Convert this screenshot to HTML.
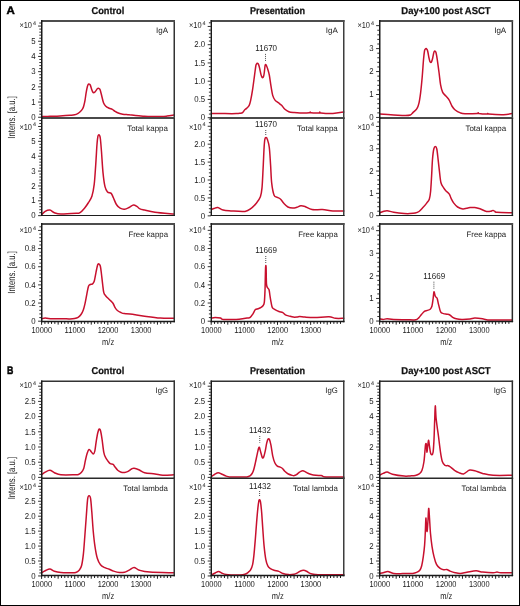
<!DOCTYPE html>
<html><head><meta charset="utf-8"><style>
html,body{margin:0;padding:0;background:#fff;width:520px;height:606px;overflow:hidden;}
svg text{font-family:"Liberation Sans", sans-serif;text-rendering:geometricPrecision;}
</style></head><body>
<svg width="520" height="606" viewBox="0 0 520 606" style="display:block;will-change:transform;font-family:'Liberation Sans', sans-serif">
<rect x="0" y="0" width="520" height="606" fill="#fff"/>
<path d="M41.6 116.6 C43 116.55 46.93 116.42 50 116.3 C53.07 116.18 56.67 116.07 60 115.9 C63.33 115.73 67.57 115.48 70 115.3 C72.43 115.12 73.25 115.13 74.6 114.8 C75.95 114.47 77.13 113.85 78.1 113.3 C79.07 112.75 79.63 112.28 80.4 111.5 C81.17 110.72 82.13 109.55 82.7 108.6 C83.27 107.65 83.42 107.17 83.8 105.8 C84.18 104.43 84.6 102.65 85 100.4 C85.4 98.15 85.8 94.62 86.2 92.3 C86.6 89.98 87.08 87.78 87.4 86.5 C87.72 85.22 87.85 85.02 88.1 84.6 C88.35 84.18 88.65 84.05 88.9 84 C89.15 83.95 89.35 84.07 89.6 84.3 C89.85 84.53 90.05 84.55 90.4 85.4 C90.75 86.25 91.3 88.3 91.7 89.4 C92.1 90.5 92.47 91.45 92.8 92 C93.13 92.55 93.38 92.67 93.7 92.7 C94.02 92.73 94.32 92.55 94.7 92.2 C95.08 91.85 95.57 91.17 96 90.6 C96.43 90.03 96.92 89.18 97.3 88.8 C97.68 88.42 97.97 88.32 98.3 88.3 C98.63 88.28 98.98 88.42 99.3 88.7 C99.62 88.98 99.8 88.82 100.2 90 C100.6 91.18 101.15 93.68 101.7 95.8 C102.25 97.92 102.82 100.97 103.5 102.7 C104.18 104.43 104.85 105.28 105.8 106.2 C106.75 107.12 108.12 107.68 109.2 108.2 C110.28 108.72 111.32 108.77 112.3 109.3 C113.28 109.83 114 110.73 115.1 111.4 C116.2 112.07 117.63 112.83 118.9 113.3 C120.17 113.77 121.02 113.95 122.7 114.2 C124.38 114.45 126.88 114.58 129 114.8 C131.12 115.02 133.07 115.27 135.4 115.5 C137.73 115.73 140.9 116.03 143 116.2 C145.1 116.37 145 116.45 148 116.5 C151 116.55 157.83 116.57 161 116.5 C164.17 116.43 164.83 116.33 167 116.1 C169.17 115.87 172.83 115.27 174 115.1" fill="none" stroke="#c8102e" stroke-width="1.5" stroke-linejoin="round" stroke-linecap="round"/>
<line x1="174.25" y1="20" x2="174.25" y2="119" stroke="#333" stroke-width="1.5"/>
<line x1="41" y1="21" x2="175" y2="21" stroke="#4d4d4d" stroke-width="2"/>
<line x1="41" y1="118" x2="175" y2="118" stroke="#4a4a4a" stroke-width="2"/>
<line x1="41.75" y1="20" x2="41.75" y2="119" stroke="#1a1a1a" stroke-width="1.5"/>
<path d="M38.1 117.25h3.2M39.3 114.21h2M39.3 111.17h2M39.3 108.13h2M39.3 105.09h2M38.1 102.05h3.2M39.3 99.01h2M39.3 95.97h2M39.3 92.93h2M39.3 89.89h2M38.1 86.85h3.2M39.3 83.81h2M39.3 80.77h2M39.3 77.73h2M39.3 74.69h2M38.1 71.65h3.2M39.3 68.61h2M39.3 65.57h2M39.3 62.53h2M39.3 59.49h2M38.1 56.45h3.2M39.3 53.41h2M39.3 50.37h2M39.3 47.33h2M39.3 44.29h2M38.1 41.25h3.2M39.3 38.21h2M39.3 35.17h2M39.3 32.13h2M39.3 29.09h2M38.1 26.05h3.2M39.3 23.01h2" stroke="#1a1a1a" stroke-width="0.9" fill="none"/>
<text x="35.6" y="119.95" font-size="8.6" text-anchor="end" font-weight="normal" fill="#1a1a1a" textLength="4.35" lengthAdjust="spacingAndGlyphs">0</text>
<text x="35.6" y="104.75" font-size="8.6" text-anchor="end" font-weight="normal" fill="#1a1a1a" textLength="4.35" lengthAdjust="spacingAndGlyphs">1</text>
<text x="35.6" y="89.55" font-size="8.6" text-anchor="end" font-weight="normal" fill="#1a1a1a" textLength="4.35" lengthAdjust="spacingAndGlyphs">2</text>
<text x="35.6" y="74.35" font-size="8.6" text-anchor="end" font-weight="normal" fill="#1a1a1a" textLength="4.35" lengthAdjust="spacingAndGlyphs">3</text>
<text x="35.6" y="59.15" font-size="8.6" text-anchor="end" font-weight="normal" fill="#1a1a1a" textLength="4.35" lengthAdjust="spacingAndGlyphs">4</text>
<text x="35.6" y="43.95" font-size="8.6" text-anchor="end" font-weight="normal" fill="#1a1a1a" textLength="4.35" lengthAdjust="spacingAndGlyphs">5</text>
<text x="19.4" y="27.95" font-size="8.6" text-anchor="start" font-weight="normal" fill="#1a1a1a" textLength="12.6" lengthAdjust="spacingAndGlyphs">×10</text>
<text x="33" y="24.8" font-size="5.4" text-anchor="start" font-weight="normal" fill="#1a1a1a">4</text>
<text x="168" y="33" font-size="7.9" text-anchor="end" font-weight="normal" fill="#1a1a1a" textLength="12" lengthAdjust="spacingAndGlyphs">IgA</text>
<path d="M211.5 113.4 C213.75 113.43 220.88 113.57 225 113.6 C229.12 113.63 233.7 113.65 236.2 113.6 C238.7 113.55 238.93 113.47 240 113.3 C241.07 113.13 241.83 113.15 242.6 112.6 C243.37 112.05 243.93 110.7 244.6 110 C245.27 109.3 245.83 109.18 246.6 108.4 C247.37 107.62 248.53 106.58 249.2 105.3 C249.87 104.02 250.05 103.22 250.6 100.7 C251.15 98.18 251.85 94.38 252.5 90.2 C253.15 86.02 253.95 79.63 254.5 75.6 C255.05 71.57 255.47 67.93 255.8 66 C256.13 64.07 256.25 64.47 256.5 64 C256.75 63.53 257.03 63.25 257.3 63.2 C257.57 63.15 257.83 63.33 258.1 63.7 C258.37 64.07 258.62 64.52 258.9 65.4 C259.18 66.28 259.45 67.47 259.8 69 C260.15 70.53 260.65 73.27 261 74.6 C261.35 75.93 261.6 76.5 261.9 77 C262.2 77.5 262.52 77.72 262.8 77.6 C263.08 77.48 263.35 77.15 263.6 76.3 C263.85 75.45 264.07 74.22 264.3 72.5 C264.53 70.78 264.8 67.33 265 66 C265.2 64.67 265.32 64.68 265.5 64.5 C265.68 64.32 265.9 64.6 266.1 64.9 C266.3 65.2 266.43 65.62 266.7 66.3 C266.97 66.98 267.27 67.55 267.7 69 C268.13 70.45 268.75 72.13 269.3 75 C269.85 77.87 270.43 82.8 271 86.2 C271.57 89.6 272.03 93.08 272.7 95.4 C273.37 97.72 274.07 98.88 275 100.1 C275.93 101.32 277.2 101.83 278.3 102.7 C279.4 103.57 280.5 104.2 281.6 105.3 C282.7 106.4 283.7 108.23 284.9 109.3 C286.1 110.37 287.27 111.15 288.8 111.7 C290.33 112.25 292.23 112.38 294.1 112.6 C295.97 112.82 297.45 112.97 300 113 C302.55 113.03 307.7 112.97 309.4 112.8 C311.1 112.63 309.93 112 310.2 112 C310.47 112 309.53 112.65 311 112.8 C312.47 112.95 317.53 113.03 319 112.9 C320.47 112.77 319.5 112 319.8 112 C320.1 112 318.62 112.67 320.8 112.9 C322.98 113.13 329.07 113.55 332.9 113.4 C336.73 113.25 341.98 112.23 343.8 112" fill="none" stroke="#c8102e" stroke-width="1.5" stroke-linejoin="round" stroke-linecap="round"/>
<line x1="343.75" y1="20" x2="343.75" y2="119" stroke="#3d3d3d" stroke-width="1.5"/>
<line x1="210.6" y1="21" x2="344.5" y2="21" stroke="#4d4d4d" stroke-width="2"/>
<line x1="210.6" y1="118" x2="344.5" y2="118" stroke="#4a4a4a" stroke-width="2"/>
<line x1="211.3" y1="20" x2="211.3" y2="119" stroke="#1a1a1a" stroke-width="1.4"/>
<path d="M207.7 117.7h3.2M208.9 114.05h2M208.9 110.4h2M208.9 106.75h2M208.9 103.1h2M207.7 99.45h3.2M208.9 95.8h2M208.9 92.15h2M208.9 88.5h2M208.9 84.85h2M207.7 81.2h3.2M208.9 77.55h2M208.9 73.9h2M208.9 70.25h2M208.9 66.6h2M207.7 62.95h3.2M208.9 59.3h2M208.9 55.65h2M208.9 52h2M208.9 48.35h2M207.7 44.7h3.2M208.9 41.05h2M208.9 37.4h2M208.9 33.75h2M208.9 30.1h2M207.7 26.45h3.2M208.9 22.8h2" stroke="#1a1a1a" stroke-width="0.9" fill="none"/>
<text x="205.2" y="120.4" font-size="8.6" text-anchor="end" font-weight="normal" fill="#1a1a1a" textLength="4.35" lengthAdjust="spacingAndGlyphs">0</text>
<text x="205.2" y="102.15" font-size="8.6" text-anchor="end" font-weight="normal" fill="#1a1a1a" textLength="10.88" lengthAdjust="spacingAndGlyphs">0.5</text>
<text x="205.2" y="83.9" font-size="8.6" text-anchor="end" font-weight="normal" fill="#1a1a1a" textLength="10.88" lengthAdjust="spacingAndGlyphs">1.0</text>
<text x="205.2" y="65.65" font-size="8.6" text-anchor="end" font-weight="normal" fill="#1a1a1a" textLength="10.88" lengthAdjust="spacingAndGlyphs">1.5</text>
<text x="205.2" y="47.4" font-size="8.6" text-anchor="end" font-weight="normal" fill="#1a1a1a" textLength="10.88" lengthAdjust="spacingAndGlyphs">2.0</text>
<text x="189" y="27.95" font-size="8.6" text-anchor="start" font-weight="normal" fill="#1a1a1a" textLength="12.6" lengthAdjust="spacingAndGlyphs">×10</text>
<text x="202.6" y="24.8" font-size="5.4" text-anchor="start" font-weight="normal" fill="#1a1a1a">4</text>
<text x="337.8" y="33" font-size="7.9" text-anchor="end" font-weight="normal" fill="#1a1a1a" textLength="12" lengthAdjust="spacingAndGlyphs">IgA</text>
<text x="266.2" y="51.2" font-size="8.6" text-anchor="middle" font-weight="normal" fill="#1a1a1a" textLength="21.76" lengthAdjust="spacingAndGlyphs">11670</text>
<line x1="265.5" y1="53.9" x2="265.5" y2="61.3" stroke="#3a3a3a" stroke-width="0.9" stroke-dasharray="1 1"/>
<path d="M379.7 114.1 C382.03 114.23 389.48 114.67 393.7 114.9 C397.92 115.13 402.23 115.48 405 115.5 C407.77 115.52 408.98 115.48 410.3 115 C411.62 114.52 411.8 113.67 412.9 112.6 C414 111.53 415.9 110.13 416.9 108.6 C417.9 107.07 418.28 106.03 418.9 103.4 C419.52 100.77 420.05 97.2 420.6 92.8 C421.15 88.4 421.72 82.5 422.2 77 C422.68 71.5 423.12 64.13 423.5 59.8 C423.88 55.47 424.2 52.77 424.5 51 C424.8 49.23 425.03 49.6 425.3 49.2 C425.57 48.8 425.83 48.58 426.1 48.6 C426.37 48.62 426.63 48.87 426.9 49.3 C427.17 49.73 427.35 49.75 427.7 51.2 C428.05 52.65 428.63 56.27 429 58 C429.37 59.73 429.6 60.83 429.9 61.6 C430.2 62.37 430.5 62.63 430.8 62.6 C431.1 62.57 431.38 62.17 431.7 61.4 C432.02 60.63 432.35 59.47 432.7 58 C433.05 56.53 433.48 53.73 433.8 52.6 C434.12 51.47 434.33 51.38 434.6 51.2 C434.87 51.02 435.15 51.2 435.4 51.5 C435.65 51.8 435.78 51.62 436.1 53 C436.42 54.38 436.8 56.47 437.3 59.8 C437.8 63.13 438.55 68.82 439.1 73 C439.65 77.18 440.02 81.72 440.6 84.9 C441.18 88.08 441.72 90.23 442.6 92.1 C443.48 93.97 444.8 94.77 445.9 96.1 C447 97.43 448.2 98.45 449.2 100.1 C450.2 101.75 450.9 104.35 451.9 106 C452.9 107.65 453.78 108.85 455.2 110 C456.62 111.15 458.77 112.28 460.4 112.9 C462.03 113.52 462.17 113.62 465 113.7 C467.83 113.78 475.2 113.55 477.4 113.4 C479.6 113.25 477.93 112.77 478.2 112.8 C478.47 112.83 477.53 113.38 479 113.6 C480.47 113.82 485.53 114.13 487 114.1 C488.47 114.07 487.53 113.4 487.8 113.4 C488.07 113.4 485.98 113.88 488.6 114.1 C491.22 114.32 499.57 114.78 503.5 114.7 C507.43 114.62 510.75 113.78 512.2 113.6" fill="none" stroke="#c8102e" stroke-width="1.5" stroke-linejoin="round" stroke-linecap="round"/>
<line x1="512.35" y1="20" x2="512.35" y2="119" stroke="#2a2a2a" stroke-width="1.5"/>
<line x1="379" y1="21" x2="513.1" y2="21" stroke="#4d4d4d" stroke-width="2"/>
<line x1="379" y1="118" x2="513.1" y2="118" stroke="#4a4a4a" stroke-width="2"/>
<line x1="379.75" y1="20" x2="379.75" y2="119" stroke="#1a1a1a" stroke-width="1.5"/>
<path d="M376.1 117.45h3.2M377.3 112.86h2M377.3 108.27h2M377.3 103.68h2M377.3 99.09h2M376.1 94.5h3.2M377.3 89.91h2M377.3 85.32h2M377.3 80.73h2M377.3 76.14h2M376.1 71.55h3.2M377.3 66.96h2M377.3 62.37h2M377.3 57.78h2M377.3 53.19h2M376.1 48.6h3.2M377.3 44.01h2M377.3 39.42h2M377.3 34.83h2M377.3 30.24h2M376.1 25.65h3.2" stroke="#1a1a1a" stroke-width="0.9" fill="none"/>
<text x="373.6" y="120.15" font-size="8.6" text-anchor="end" font-weight="normal" fill="#1a1a1a" textLength="4.35" lengthAdjust="spacingAndGlyphs">0</text>
<text x="373.6" y="97.2" font-size="8.6" text-anchor="end" font-weight="normal" fill="#1a1a1a" textLength="4.35" lengthAdjust="spacingAndGlyphs">1</text>
<text x="373.6" y="74.25" font-size="8.6" text-anchor="end" font-weight="normal" fill="#1a1a1a" textLength="4.35" lengthAdjust="spacingAndGlyphs">2</text>
<text x="373.6" y="51.3" font-size="8.6" text-anchor="end" font-weight="normal" fill="#1a1a1a" textLength="4.35" lengthAdjust="spacingAndGlyphs">3</text>
<text x="357.4" y="27.95" font-size="8.6" text-anchor="start" font-weight="normal" fill="#1a1a1a" textLength="12.6" lengthAdjust="spacingAndGlyphs">×10</text>
<text x="371" y="24.8" font-size="5.4" text-anchor="start" font-weight="normal" fill="#1a1a1a">4</text>
<text x="506.2" y="33" font-size="7.9" text-anchor="end" font-weight="normal" fill="#1a1a1a" textLength="12" lengthAdjust="spacingAndGlyphs">IgA</text>
<path d="M41.6 214.8 C42.2 214.23 43.82 212.18 45.2 211.4 C46.58 210.62 48.37 209.87 49.9 210.1 C51.43 210.33 52.57 212.13 54.4 212.8 C56.23 213.47 57.2 214.02 60.9 214.1 C64.6 214.18 73.42 213.53 76.6 213.3 C79.78 213.07 78.68 213.55 80 212.7 C81.32 211.85 83.13 209.82 84.5 208.2 C85.87 206.58 86.97 204.98 88.2 203 C89.43 201.02 90.9 199.4 91.9 196.3 C92.9 193.2 93.57 189.6 94.2 184.4 C94.83 179.2 95.23 171.78 95.7 165.1 C96.17 158.42 96.63 149.08 97 144.3 C97.37 139.52 97.62 137.98 97.9 136.4 C98.18 134.82 98.42 134.95 98.7 134.8 C98.98 134.65 99.32 134.8 99.6 135.5 C99.88 136.2 100.08 136.28 100.4 139 C100.72 141.72 101.07 146.2 101.5 151.8 C101.93 157.4 102.42 166.78 103 172.6 C103.58 178.42 104.25 183.48 105 186.7 C105.75 189.92 106.47 190.78 107.5 191.9 C108.53 193.02 110.22 192.42 111.2 193.4 C112.18 194.38 112.53 195.95 113.4 197.8 C114.27 199.65 115.28 202.77 116.4 204.5 C117.52 206.23 118.73 207.42 120.1 208.2 C121.47 208.98 123.12 209.32 124.6 209.2 C126.08 209.08 127.52 208.22 129 207.5 C130.48 206.78 132.13 205.03 133.5 204.9 C134.87 204.77 136.12 206.03 137.2 206.7 C138.28 207.37 138.77 208.33 140 208.9 C141.23 209.47 142.1 209.55 144.6 210.1 C147.1 210.65 150.1 211.53 155 212.2 C159.9 212.87 170.83 213.78 174 214.1" fill="none" stroke="#c8102e" stroke-width="1.5" stroke-linejoin="round" stroke-linecap="round"/>
<line x1="174.25" y1="117.8" x2="174.25" y2="216.05" stroke="#333" stroke-width="1.5"/>
<line x1="41" y1="215.5" x2="175" y2="215.5" stroke="#1e1e1e" stroke-width="1.1"/>
<line x1="41.75" y1="117.8" x2="41.75" y2="216.05" stroke="#1a1a1a" stroke-width="1.5"/>
<path d="M38.1 215.65h3.2M39.3 212.68h2M39.3 209.71h2M39.3 206.73h2M39.3 203.76h2M38.1 200.79h3.2M39.3 197.82h2M39.3 194.85h2M39.3 191.87h2M39.3 188.9h2M38.1 185.93h3.2M39.3 182.96h2M39.3 179.99h2M39.3 177.01h2M39.3 174.04h2M38.1 171.07h3.2M39.3 168.1h2M39.3 165.13h2M39.3 162.15h2M39.3 159.18h2M38.1 156.21h3.2M39.3 153.24h2M39.3 150.27h2M39.3 147.29h2M39.3 144.32h2M38.1 141.35h3.2M39.3 138.38h2M39.3 135.41h2M39.3 132.43h2M39.3 129.46h2M38.1 126.49h3.2M39.3 123.52h2M39.3 120.55h2" stroke="#1a1a1a" stroke-width="0.9" fill="none"/>
<text x="35.6" y="218.35" font-size="8.6" text-anchor="end" font-weight="normal" fill="#1a1a1a" textLength="4.35" lengthAdjust="spacingAndGlyphs">0</text>
<text x="35.6" y="203.49" font-size="8.6" text-anchor="end" font-weight="normal" fill="#1a1a1a" textLength="4.35" lengthAdjust="spacingAndGlyphs">1</text>
<text x="35.6" y="188.63" font-size="8.6" text-anchor="end" font-weight="normal" fill="#1a1a1a" textLength="4.35" lengthAdjust="spacingAndGlyphs">2</text>
<text x="35.6" y="173.77" font-size="8.6" text-anchor="end" font-weight="normal" fill="#1a1a1a" textLength="4.35" lengthAdjust="spacingAndGlyphs">3</text>
<text x="35.6" y="158.91" font-size="8.6" text-anchor="end" font-weight="normal" fill="#1a1a1a" textLength="4.35" lengthAdjust="spacingAndGlyphs">4</text>
<text x="35.6" y="144.05" font-size="8.6" text-anchor="end" font-weight="normal" fill="#1a1a1a" textLength="4.35" lengthAdjust="spacingAndGlyphs">5</text>
<text x="19.4" y="129.55" font-size="8.6" text-anchor="start" font-weight="normal" fill="#1a1a1a" textLength="12.6" lengthAdjust="spacingAndGlyphs">×10</text>
<text x="33" y="126.4" font-size="5.4" text-anchor="start" font-weight="normal" fill="#1a1a1a">4</text>
<text x="168" y="130.6" font-size="7.9" text-anchor="end" font-weight="normal" fill="#1a1a1a" textLength="40.8" lengthAdjust="spacingAndGlyphs">Total kappa</text>
<path d="M211.5 209.4 C211.92 209.25 212.95 208.82 214 208.5 C215.05 208.18 216.28 207.23 217.8 207.5 C219.32 207.77 220.92 209.53 223.1 210.1 C225.28 210.67 227.25 210.68 230.9 210.9 C234.55 211.12 241.57 211.87 245 211.4 C248.43 210.93 249.62 209.45 251.5 208.1 C253.38 206.75 254.82 205.18 256.3 203.3 C257.78 201.42 259.45 199.37 260.4 196.8 C261.35 194.23 261.55 192.62 262 187.9 C262.45 183.18 262.75 175.23 263.1 168.5 C263.45 161.77 263.8 152.38 264.1 147.5 C264.4 142.62 264.58 140.85 264.9 139.2 C265.22 137.55 265.58 137.57 266 137.6 C266.42 137.63 266.85 137.75 267.4 139.4 C267.95 141.05 268.77 143.18 269.3 147.5 C269.83 151.82 270.2 159.37 270.6 165.3 C271 171.23 271.12 178.12 271.7 183.1 C272.28 188.08 273.17 192.83 274.1 195.2 C275.03 197.57 276.22 196.63 277.3 197.3 C278.38 197.97 279.52 198.2 280.6 199.2 C281.68 200.2 282.58 202 283.8 203.3 C285.02 204.6 286.42 206.2 287.9 207 C289.38 207.8 291.22 208.05 292.7 208.1 C294.18 208.15 295.45 207.7 296.8 207.3 C298.15 206.9 299.43 205.83 300.8 205.7 C302.17 205.57 303.13 205.85 305 206.5 C306.87 207.15 309.1 209.08 312 209.6 C314.9 210.12 318.92 209.38 322.4 209.6 C325.88 209.82 329.33 210.68 332.9 210.9 C336.47 211.12 341.98 210.9 343.8 210.9" fill="none" stroke="#c8102e" stroke-width="1.5" stroke-linejoin="round" stroke-linecap="round"/>
<line x1="343.75" y1="117.8" x2="343.75" y2="216.05" stroke="#3d3d3d" stroke-width="1.5"/>
<line x1="210.6" y1="215.5" x2="344.5" y2="215.5" stroke="#1e1e1e" stroke-width="1.1"/>
<line x1="211.3" y1="117.8" x2="211.3" y2="216.05" stroke="#1a1a1a" stroke-width="1.4"/>
<path d="M207.7 215.85h3.2M208.9 212.27h2M208.9 208.68h2M208.9 205.1h2M208.9 201.51h2M207.7 197.93h3.2M208.9 194.35h2M208.9 190.76h2M208.9 187.18h2M208.9 183.59h2M207.7 180.01h3.2M208.9 176.43h2M208.9 172.84h2M208.9 169.26h2M208.9 165.67h2M207.7 162.09h3.2M208.9 158.51h2M208.9 154.92h2M208.9 151.34h2M208.9 147.75h2M207.7 144.17h3.2M208.9 140.59h2M208.9 137h2M208.9 133.42h2M208.9 129.83h2M207.7 126.25h3.2M208.9 122.67h2M208.9 119.08h2" stroke="#1a1a1a" stroke-width="0.9" fill="none"/>
<text x="205.2" y="218.55" font-size="8.6" text-anchor="end" font-weight="normal" fill="#1a1a1a" textLength="4.35" lengthAdjust="spacingAndGlyphs">0</text>
<text x="205.2" y="200.63" font-size="8.6" text-anchor="end" font-weight="normal" fill="#1a1a1a" textLength="10.88" lengthAdjust="spacingAndGlyphs">0.5</text>
<text x="205.2" y="182.71" font-size="8.6" text-anchor="end" font-weight="normal" fill="#1a1a1a" textLength="10.88" lengthAdjust="spacingAndGlyphs">1.0</text>
<text x="205.2" y="164.79" font-size="8.6" text-anchor="end" font-weight="normal" fill="#1a1a1a" textLength="10.88" lengthAdjust="spacingAndGlyphs">1.5</text>
<text x="205.2" y="146.87" font-size="8.6" text-anchor="end" font-weight="normal" fill="#1a1a1a" textLength="10.88" lengthAdjust="spacingAndGlyphs">2.0</text>
<text x="189" y="129.55" font-size="8.6" text-anchor="start" font-weight="normal" fill="#1a1a1a" textLength="12.6" lengthAdjust="spacingAndGlyphs">×10</text>
<text x="202.6" y="126.4" font-size="5.4" text-anchor="start" font-weight="normal" fill="#1a1a1a">4</text>
<text x="337.8" y="130.6" font-size="7.9" text-anchor="end" font-weight="normal" fill="#1a1a1a" textLength="40.8" lengthAdjust="spacingAndGlyphs">Total kappa</text>
<text x="266" y="127.3" font-size="8.6" text-anchor="middle" font-weight="normal" fill="#1a1a1a" textLength="21.76" lengthAdjust="spacingAndGlyphs">11670</text>
<line x1="265.75" y1="130" x2="265.75" y2="135.8" stroke="#3a3a3a" stroke-width="0.9" stroke-dasharray="1 1"/>
<path d="M379.7 212.8 C380.25 212.58 381.75 211.85 383 211.5 C384.25 211.15 385.42 210.58 387.2 210.7 C388.98 210.82 390.87 211.73 393.7 212.2 C396.53 212.67 401.48 213.27 404.2 213.5 C406.92 213.73 408.17 213.67 410 213.6 C411.83 213.53 413.7 213.45 415.2 213.1 C416.7 212.75 417.72 212.42 419 211.5 C420.28 210.58 421.62 209 422.9 207.6 C424.18 206.2 425.63 204.5 426.7 203.1 C427.77 201.7 428.65 201.13 429.3 199.2 C429.95 197.27 430.22 195.37 430.6 191.5 C430.98 187.63 431.28 181.37 431.6 176 C431.92 170.63 432.13 163.8 432.5 159.3 C432.87 154.8 433.32 151.15 433.8 149 C434.28 146.85 434.9 146.4 435.4 146.4 C435.9 146.4 436.35 146.85 436.8 149 C437.25 151.15 437.67 155.65 438.1 159.3 C438.53 162.95 438.93 167.03 439.4 170.9 C439.87 174.77 440.22 179.72 440.9 182.5 C441.58 185.28 442.65 186.2 443.5 187.6 C444.35 189 445.03 189.82 446 190.9 C446.97 191.98 448.43 192.82 449.3 194.1 C450.17 195.38 450.45 197.1 451.2 198.6 C451.95 200.1 452.73 201.7 453.8 203.1 C454.87 204.5 456.1 206.03 457.6 207 C459.1 207.97 461.28 208.7 462.8 208.9 C464.32 209.1 465.5 208.42 466.7 208.2 C467.9 207.98 468.65 207.72 470 207.6 C471.35 207.48 473.13 207.3 474.8 207.5 C476.47 207.7 478.05 208.15 480 208.8 C481.95 209.45 484.67 211 486.5 211.4 C488.33 211.8 489.9 211.37 491 211.2 C492.1 211.03 492.43 210.35 493.1 210.4 C493.77 210.45 494.35 211.2 495 211.5 C495.65 211.8 494.13 211.98 497 212.2 C499.87 212.42 509.67 212.7 512.2 212.8" fill="none" stroke="#c8102e" stroke-width="1.5" stroke-linejoin="round" stroke-linecap="round"/>
<line x1="512.35" y1="117.8" x2="512.35" y2="216.05" stroke="#2a2a2a" stroke-width="1.5"/>
<line x1="379" y1="215.5" x2="513.1" y2="215.5" stroke="#1e1e1e" stroke-width="1.1"/>
<line x1="379.75" y1="117.8" x2="379.75" y2="216.05" stroke="#1a1a1a" stroke-width="1.5"/>
<path d="M376.1 215.65h3.2M377.3 211.19h2M377.3 206.73h2M377.3 202.27h2M377.3 197.81h2M376.1 193.35h3.2M377.3 188.89h2M377.3 184.43h2M377.3 179.97h2M377.3 175.51h2M376.1 171.05h3.2M377.3 166.59h2M377.3 162.13h2M377.3 157.67h2M377.3 153.21h2M376.1 148.75h3.2M377.3 144.29h2M377.3 139.83h2M377.3 135.37h2M377.3 130.91h2M376.1 126.45h3.2M377.3 121.99h2" stroke="#1a1a1a" stroke-width="0.9" fill="none"/>
<text x="373.6" y="218.35" font-size="8.6" text-anchor="end" font-weight="normal" fill="#1a1a1a" textLength="4.35" lengthAdjust="spacingAndGlyphs">0</text>
<text x="373.6" y="196.05" font-size="8.6" text-anchor="end" font-weight="normal" fill="#1a1a1a" textLength="4.35" lengthAdjust="spacingAndGlyphs">1</text>
<text x="373.6" y="173.75" font-size="8.6" text-anchor="end" font-weight="normal" fill="#1a1a1a" textLength="4.35" lengthAdjust="spacingAndGlyphs">2</text>
<text x="373.6" y="151.45" font-size="8.6" text-anchor="end" font-weight="normal" fill="#1a1a1a" textLength="4.35" lengthAdjust="spacingAndGlyphs">3</text>
<text x="357.4" y="129.55" font-size="8.6" text-anchor="start" font-weight="normal" fill="#1a1a1a" textLength="12.6" lengthAdjust="spacingAndGlyphs">×10</text>
<text x="371" y="126.4" font-size="5.4" text-anchor="start" font-weight="normal" fill="#1a1a1a">4</text>
<text x="506.2" y="130.6" font-size="7.9" text-anchor="end" font-weight="normal" fill="#1a1a1a" textLength="40.8" lengthAdjust="spacingAndGlyphs">Total kappa</text>
<path d="M41.6 318.8 C42.2 318.68 43.72 318.1 45.2 318.1 C46.68 318.1 47 318.68 50.5 318.8 C54 318.92 62.95 318.77 66.2 318.8 C69.45 318.83 68.6 319.03 70 319 C71.4 318.97 73.25 318.87 74.6 318.6 C75.95 318.33 77.03 318.08 78.1 317.4 C79.17 316.72 80.13 315.75 81 314.5 C81.87 313.25 82.63 311.72 83.3 309.9 C83.97 308.08 84.42 306.2 85 303.6 C85.58 301 86.22 297.2 86.8 294.3 C87.38 291.4 87.93 287.83 88.5 286.2 C89.07 284.57 89.53 284.88 90.2 284.5 C90.87 284.12 91.82 284.48 92.5 283.9 C93.18 283.32 93.72 282.93 94.3 281 C94.88 279.07 95.43 275 96 272.3 C96.57 269.6 97.22 266.18 97.7 264.8 C98.18 263.42 98.47 263.8 98.9 264 C99.33 264.2 99.88 264.42 100.3 266 C100.72 267.58 101.02 270.52 101.4 273.5 C101.78 276.48 102.2 280.72 102.6 283.9 C103 287.08 103.27 290.58 103.8 292.6 C104.33 294.62 104.88 294.85 105.8 296 C106.72 297.15 108.13 298.33 109.3 299.5 C110.47 300.67 111.83 301.65 112.8 303 C113.77 304.35 114.33 306.35 115.1 307.6 C115.87 308.85 116.43 309.68 117.4 310.5 C118.37 311.32 119.75 311.98 120.9 312.5 C122.05 313.02 122.78 313.37 124.3 313.6 C125.82 313.83 126.62 313.47 130 313.9 C133.38 314.33 139.55 315.5 144.6 316.2 C149.65 316.9 155.4 317.75 160.3 318.1 C165.2 318.45 171.72 318.27 174 318.3" fill="none" stroke="#c8102e" stroke-width="1.5" stroke-linejoin="round" stroke-linecap="round"/>
<line x1="174.25" y1="223" x2="174.25" y2="322.15" stroke="#333" stroke-width="1.5"/>
<line x1="41" y1="224" x2="175" y2="224" stroke="#4d4d4d" stroke-width="2"/>
<line x1="41" y1="321.4" x2="175" y2="321.4" stroke="#1a1a1a" stroke-width="1.5"/>
<line x1="41.75" y1="223" x2="41.75" y2="322.15" stroke="#1a1a1a" stroke-width="1.5"/>
<path d="M38.1 321.2h3.2M39.3 317.57h2M39.3 313.94h2M39.3 310.31h2M39.3 306.68h2M38.1 303.05h3.2M39.3 299.42h2M39.3 295.79h2M39.3 292.16h2M39.3 288.53h2M38.1 284.9h3.2M39.3 281.27h2M39.3 277.64h2M39.3 274.01h2M39.3 270.38h2M38.1 266.75h3.2M39.3 263.12h2M39.3 259.49h2M39.3 255.86h2M39.3 252.23h2M38.1 248.6h3.2M39.3 244.97h2M39.3 241.34h2M39.3 237.71h2M39.3 234.08h2M38.1 230.45h3.2M39.3 226.82h2" stroke="#1a1a1a" stroke-width="0.9" fill="none"/>
<text x="35.6" y="323.9" font-size="8.6" text-anchor="end" font-weight="normal" fill="#1a1a1a" textLength="4.35" lengthAdjust="spacingAndGlyphs">0</text>
<text x="35.6" y="305.75" font-size="8.6" text-anchor="end" font-weight="normal" fill="#1a1a1a" textLength="10.88" lengthAdjust="spacingAndGlyphs">0.2</text>
<text x="35.6" y="287.6" font-size="8.6" text-anchor="end" font-weight="normal" fill="#1a1a1a" textLength="10.88" lengthAdjust="spacingAndGlyphs">0.4</text>
<text x="35.6" y="269.45" font-size="8.6" text-anchor="end" font-weight="normal" fill="#1a1a1a" textLength="10.88" lengthAdjust="spacingAndGlyphs">0.6</text>
<text x="35.6" y="251.3" font-size="8.6" text-anchor="end" font-weight="normal" fill="#1a1a1a" textLength="10.88" lengthAdjust="spacingAndGlyphs">0.8</text>
<text x="19.4" y="232.75" font-size="8.6" text-anchor="start" font-weight="normal" fill="#1a1a1a" textLength="12.6" lengthAdjust="spacingAndGlyphs">×10</text>
<text x="33" y="229.6" font-size="5.4" text-anchor="start" font-weight="normal" fill="#1a1a1a">4</text>
<path d="M41.6 321.2v3.6M44.91 321.2v2.7M48.22 321.2v2.7M51.53 321.2v2.7M54.84 321.2v2.7M58.15 321.2v3.4M61.46 321.2v2.7M64.77 321.2v2.7M68.08 321.2v2.7M71.39 321.2v2.7M74.7 321.2v3.6M78.01 321.2v2.7M81.32 321.2v2.7M84.63 321.2v2.7M87.94 321.2v2.7M91.25 321.2v3.4M94.56 321.2v2.7M97.87 321.2v2.7M101.18 321.2v2.7M104.49 321.2v2.7M107.8 321.2v3.6M111.11 321.2v2.7M114.42 321.2v2.7M117.73 321.2v2.7M121.04 321.2v2.7M124.35 321.2v3.4M127.66 321.2v2.7M130.97 321.2v2.7M134.28 321.2v2.7M137.59 321.2v2.7M140.9 321.2v3.6M144.21 321.2v2.7M147.52 321.2v2.7M150.83 321.2v2.7M154.14 321.2v2.7M157.45 321.2v3.4M160.76 321.2v2.7M164.07 321.2v2.7M167.38 321.2v2.7M170.69 321.2v2.7" stroke="#1a1a1a" stroke-width="1.0" fill="none"/>
<text x="41.8" y="333.3" font-size="8.6" text-anchor="middle" font-weight="normal" fill="#1a1a1a" textLength="20.67" lengthAdjust="spacingAndGlyphs">10000</text>
<text x="74.9" y="333.3" font-size="8.6" text-anchor="middle" font-weight="normal" fill="#1a1a1a" textLength="20.67" lengthAdjust="spacingAndGlyphs">11000</text>
<text x="108" y="333.3" font-size="8.6" text-anchor="middle" font-weight="normal" fill="#1a1a1a" textLength="20.67" lengthAdjust="spacingAndGlyphs">12000</text>
<text x="141.1" y="333.3" font-size="8.6" text-anchor="middle" font-weight="normal" fill="#1a1a1a" textLength="20.67" lengthAdjust="spacingAndGlyphs">13000</text>
<text x="108.1" y="345" font-size="9.2" text-anchor="middle" font-weight="normal" fill="#1a1a1a" textLength="12.1" lengthAdjust="spacingAndGlyphs">m/z</text>
<text x="168" y="236.6" font-size="7.9" text-anchor="end" font-weight="normal" fill="#1a1a1a" textLength="39.6" lengthAdjust="spacingAndGlyphs">Free kappa</text>
<path d="M211.5 318.1 C212.12 318 213.7 317.5 215.2 317.5 C216.7 317.5 219.18 317.78 220.5 318.1 C221.82 318.42 220.48 319.18 223.1 319.4 C225.72 319.62 232.72 319.53 236.2 319.4 C239.68 319.27 242.1 318.83 244 318.6 C245.9 318.37 246.57 318.2 247.6 318 C248.63 317.8 249.33 318.05 250.2 317.4 C251.07 316.75 251.93 315.4 252.8 314.1 C253.67 312.8 254.53 310.5 255.4 309.6 C256.27 308.7 257.12 309.03 258 308.7 C258.88 308.37 259.87 308.1 260.7 307.6 C261.53 307.1 262.4 306.57 263 305.7 C263.6 304.83 263.97 304.9 264.3 302.4 C264.63 299.9 264.83 294.83 265 290.7 C265.17 286.57 265.2 281.52 265.3 277.6 C265.4 273.68 265.47 268.93 265.6 267.2 C265.73 265.47 265.95 264.38 266.1 267.2 C266.25 270.02 266.22 280.63 266.5 284.1 C266.78 287.57 267.37 287.02 267.8 288 C268.23 288.98 268.73 288.68 269.1 290 C269.47 291.32 269.67 293.83 270 295.9 C270.33 297.97 270.7 300.45 271.1 302.4 C271.5 304.35 271.75 306.4 272.4 307.6 C273.05 308.8 273.92 308.95 275 309.6 C276.08 310.25 277.6 311 278.9 311.5 C280.2 312 281.72 312.05 282.8 312.6 C283.88 313.15 284.32 314.22 285.4 314.8 C286.48 315.38 287.98 315.72 289.3 316.1 C290.62 316.48 291.98 316.95 293.3 317.1 C294.62 317.25 296.12 317.1 297.2 317 C298.28 316.9 298.5 316.48 299.8 316.5 C301.1 316.52 302.53 316.93 305 317.1 C307.47 317.27 310.6 317.55 314.6 317.5 C318.6 317.45 325.52 316.67 329 316.8 C332.48 316.93 333.03 318.05 335.5 318.3 C337.97 318.55 342.42 318.3 343.8 318.3" fill="none" stroke="#c8102e" stroke-width="1.5" stroke-linejoin="round" stroke-linecap="round"/>
<line x1="343.75" y1="223" x2="343.75" y2="322.15" stroke="#3d3d3d" stroke-width="1.5"/>
<line x1="210.6" y1="224" x2="344.5" y2="224" stroke="#4d4d4d" stroke-width="2"/>
<line x1="210.6" y1="321.4" x2="344.5" y2="321.4" stroke="#1a1a1a" stroke-width="1.5"/>
<line x1="211.3" y1="223" x2="211.3" y2="322.15" stroke="#1a1a1a" stroke-width="1.4"/>
<path d="M207.7 321.2h3.2M208.9 317.57h2M208.9 313.93h2M208.9 310.3h2M208.9 306.66h2M207.7 303.03h3.2M208.9 299.4h2M208.9 295.76h2M208.9 292.13h2M208.9 288.49h2M207.7 284.86h3.2M208.9 281.23h2M208.9 277.59h2M208.9 273.96h2M208.9 270.32h2M207.7 266.69h3.2M208.9 263.06h2M208.9 259.42h2M208.9 255.79h2M208.9 252.15h2M207.7 248.52h3.2M208.9 244.89h2M208.9 241.25h2M208.9 237.62h2M208.9 233.98h2M207.7 230.35h3.2M208.9 226.72h2" stroke="#1a1a1a" stroke-width="0.9" fill="none"/>
<text x="205.2" y="323.9" font-size="8.6" text-anchor="end" font-weight="normal" fill="#1a1a1a" textLength="4.35" lengthAdjust="spacingAndGlyphs">0</text>
<text x="205.2" y="305.73" font-size="8.6" text-anchor="end" font-weight="normal" fill="#1a1a1a" textLength="10.88" lengthAdjust="spacingAndGlyphs">0.2</text>
<text x="205.2" y="287.56" font-size="8.6" text-anchor="end" font-weight="normal" fill="#1a1a1a" textLength="10.88" lengthAdjust="spacingAndGlyphs">0.4</text>
<text x="205.2" y="269.39" font-size="8.6" text-anchor="end" font-weight="normal" fill="#1a1a1a" textLength="10.88" lengthAdjust="spacingAndGlyphs">0.6</text>
<text x="205.2" y="251.22" font-size="8.6" text-anchor="end" font-weight="normal" fill="#1a1a1a" textLength="10.88" lengthAdjust="spacingAndGlyphs">0.8</text>
<text x="189" y="232.75" font-size="8.6" text-anchor="start" font-weight="normal" fill="#1a1a1a" textLength="12.6" lengthAdjust="spacingAndGlyphs">×10</text>
<text x="202.6" y="229.6" font-size="5.4" text-anchor="start" font-weight="normal" fill="#1a1a1a">4</text>
<path d="M211.2 321.2v3.6M214.52 321.2v2.7M217.83 321.2v2.7M221.15 321.2v2.7M224.46 321.2v2.7M227.78 321.2v3.4M231.09 321.2v2.7M234.41 321.2v2.7M237.72 321.2v2.7M241.04 321.2v2.7M244.35 321.2v3.6M247.67 321.2v2.7M250.98 321.2v2.7M254.3 321.2v2.7M257.61 321.2v2.7M260.93 321.2v3.4M264.24 321.2v2.7M267.56 321.2v2.7M270.87 321.2v2.7M274.19 321.2v2.7M277.5 321.2v3.6M280.81 321.2v2.7M284.13 321.2v2.7M287.45 321.2v2.7M290.76 321.2v2.7M294.08 321.2v3.4M297.39 321.2v2.7M300.71 321.2v2.7M304.02 321.2v2.7M307.34 321.2v2.7M310.65 321.2v3.6M313.97 321.2v2.7M317.28 321.2v2.7M320.6 321.2v2.7M323.91 321.2v2.7M327.23 321.2v3.4M330.54 321.2v2.7M333.86 321.2v2.7M337.17 321.2v2.7M340.49 321.2v2.7" stroke="#1a1a1a" stroke-width="1.0" fill="none"/>
<text x="211.4" y="333.3" font-size="8.6" text-anchor="middle" font-weight="normal" fill="#1a1a1a" textLength="20.67" lengthAdjust="spacingAndGlyphs">10000</text>
<text x="244.55" y="333.3" font-size="8.6" text-anchor="middle" font-weight="normal" fill="#1a1a1a" textLength="20.67" lengthAdjust="spacingAndGlyphs">11000</text>
<text x="277.7" y="333.3" font-size="8.6" text-anchor="middle" font-weight="normal" fill="#1a1a1a" textLength="20.67" lengthAdjust="spacingAndGlyphs">12000</text>
<text x="310.85" y="333.3" font-size="8.6" text-anchor="middle" font-weight="normal" fill="#1a1a1a" textLength="20.67" lengthAdjust="spacingAndGlyphs">13000</text>
<text x="277.8" y="345" font-size="9.2" text-anchor="middle" font-weight="normal" fill="#1a1a1a" textLength="12.1" lengthAdjust="spacingAndGlyphs">m/z</text>
<text x="337.8" y="236.6" font-size="7.9" text-anchor="end" font-weight="normal" fill="#1a1a1a" textLength="39.6" lengthAdjust="spacingAndGlyphs">Free kappa</text>
<text x="266.1" y="253.4" font-size="8.6" text-anchor="middle" font-weight="normal" fill="#1a1a1a" textLength="21.76" lengthAdjust="spacingAndGlyphs">11669</text>
<line x1="265.75" y1="256" x2="265.75" y2="263.3" stroke="#3a3a3a" stroke-width="0.9" stroke-dasharray="1 1"/>
<path d="M379.7 318.8 C380.28 318.9 381.95 319.4 383.2 319.4 C384.45 319.4 385.45 318.77 387.2 318.8 C388.95 318.83 389.9 319.43 393.7 319.6 C397.5 319.77 406.32 319.77 410 319.8 C413.68 319.83 414.35 320.12 415.8 319.8 C417.25 319.48 417.75 318.8 418.7 317.9 C419.65 317 420.55 315.5 421.5 314.4 C422.45 313.3 423.43 311.97 424.4 311.3 C425.37 310.63 426.33 310.75 427.3 310.4 C428.27 310.05 429.43 309.88 430.2 309.2 C430.97 308.52 431.42 308.03 431.9 306.3 C432.38 304.57 432.77 301.2 433.1 298.8 C433.43 296.4 433.65 292.75 433.9 291.9 C434.15 291.05 434.35 292.93 434.6 293.7 C434.85 294.47 434.98 295.73 435.4 296.5 C435.82 297.27 436.57 296.95 437.1 298.3 C437.63 299.65 438.02 302.35 438.6 304.6 C439.18 306.85 439.78 310.3 440.6 311.8 C441.42 313.3 442.45 313.2 443.5 313.6 C444.55 314 445.85 313.97 446.9 314.2 C447.95 314.43 448.83 314.48 449.8 315 C450.77 315.52 451.63 316.68 452.7 317.3 C453.77 317.92 454.67 318.35 456.2 318.7 C457.73 319.05 459.6 319.35 461.9 319.4 C464.2 319.45 467.85 319.22 470 319 C472.15 318.78 472.7 318.13 474.8 318.1 C476.9 318.07 480.43 318.5 482.6 318.8 C484.77 319.1 482.87 319.72 487.8 319.9 C492.73 320.08 508.13 319.9 512.2 319.9" fill="none" stroke="#c8102e" stroke-width="1.5" stroke-linejoin="round" stroke-linecap="round"/>
<line x1="512.35" y1="223" x2="512.35" y2="322.15" stroke="#2a2a2a" stroke-width="1.5"/>
<line x1="379" y1="224" x2="513.1" y2="224" stroke="#4d4d4d" stroke-width="2"/>
<line x1="379" y1="321.4" x2="513.1" y2="321.4" stroke="#1a1a1a" stroke-width="1.5"/>
<line x1="379.75" y1="223" x2="379.75" y2="322.15" stroke="#1a1a1a" stroke-width="1.5"/>
<path d="M376.1 321.05h3.2M377.3 316.53h2M377.3 312.01h2M377.3 307.49h2M377.3 302.97h2M376.1 298.45h3.2M377.3 293.93h2M377.3 289.41h2M377.3 284.89h2M377.3 280.37h2M376.1 275.85h3.2M377.3 271.33h2M377.3 266.81h2M377.3 262.29h2M377.3 257.77h2M376.1 253.25h3.2M377.3 248.73h2M377.3 244.21h2M377.3 239.69h2M377.3 235.17h2M376.1 230.65h3.2M377.3 226.13h2" stroke="#1a1a1a" stroke-width="0.9" fill="none"/>
<text x="373.6" y="323.75" font-size="8.6" text-anchor="end" font-weight="normal" fill="#1a1a1a" textLength="4.35" lengthAdjust="spacingAndGlyphs">0</text>
<text x="373.6" y="301.15" font-size="8.6" text-anchor="end" font-weight="normal" fill="#1a1a1a" textLength="4.35" lengthAdjust="spacingAndGlyphs">1</text>
<text x="373.6" y="278.55" font-size="8.6" text-anchor="end" font-weight="normal" fill="#1a1a1a" textLength="4.35" lengthAdjust="spacingAndGlyphs">2</text>
<text x="373.6" y="255.95" font-size="8.6" text-anchor="end" font-weight="normal" fill="#1a1a1a" textLength="4.35" lengthAdjust="spacingAndGlyphs">3</text>
<text x="357.4" y="232.75" font-size="8.6" text-anchor="start" font-weight="normal" fill="#1a1a1a" textLength="12.6" lengthAdjust="spacingAndGlyphs">×10</text>
<text x="371" y="229.6" font-size="5.4" text-anchor="start" font-weight="normal" fill="#1a1a1a">4</text>
<path d="M379.6 321.2v3.6M382.92 321.2v2.7M386.23 321.2v2.7M389.55 321.2v2.7M392.86 321.2v2.7M396.18 321.2v3.4M399.49 321.2v2.7M402.81 321.2v2.7M406.12 321.2v2.7M409.44 321.2v2.7M412.75 321.2v3.6M416.07 321.2v2.7M419.38 321.2v2.7M422.7 321.2v2.7M426.01 321.2v2.7M429.33 321.2v3.4M432.64 321.2v2.7M435.96 321.2v2.7M439.27 321.2v2.7M442.59 321.2v2.7M445.9 321.2v3.6M449.22 321.2v2.7M452.53 321.2v2.7M455.85 321.2v2.7M459.16 321.2v2.7M462.48 321.2v3.4M465.79 321.2v2.7M469.11 321.2v2.7M472.42 321.2v2.7M475.74 321.2v2.7M479.05 321.2v3.6M482.37 321.2v2.7M485.68 321.2v2.7M489 321.2v2.7M492.31 321.2v2.7M495.63 321.2v3.4M498.94 321.2v2.7M502.26 321.2v2.7M505.57 321.2v2.7M508.89 321.2v2.7" stroke="#1a1a1a" stroke-width="1.0" fill="none"/>
<text x="379.8" y="333.3" font-size="8.6" text-anchor="middle" font-weight="normal" fill="#1a1a1a" textLength="20.67" lengthAdjust="spacingAndGlyphs">10000</text>
<text x="412.95" y="333.3" font-size="8.6" text-anchor="middle" font-weight="normal" fill="#1a1a1a" textLength="20.67" lengthAdjust="spacingAndGlyphs">11000</text>
<text x="446.1" y="333.3" font-size="8.6" text-anchor="middle" font-weight="normal" fill="#1a1a1a" textLength="20.67" lengthAdjust="spacingAndGlyphs">12000</text>
<text x="479.25" y="333.3" font-size="8.6" text-anchor="middle" font-weight="normal" fill="#1a1a1a" textLength="20.67" lengthAdjust="spacingAndGlyphs">13000</text>
<text x="446.2" y="345" font-size="9.2" text-anchor="middle" font-weight="normal" fill="#1a1a1a" textLength="12.1" lengthAdjust="spacingAndGlyphs">m/z</text>
<text x="506.2" y="236.6" font-size="7.9" text-anchor="end" font-weight="normal" fill="#1a1a1a" textLength="39.6" lengthAdjust="spacingAndGlyphs">Free kappa</text>
<text x="434.25" y="279.1" font-size="8.6" text-anchor="middle" font-weight="normal" fill="#1a1a1a" textLength="21.76" lengthAdjust="spacingAndGlyphs">11669</text>
<line x1="433.9" y1="281.7" x2="433.9" y2="289" stroke="#3a3a3a" stroke-width="0.9" stroke-dasharray="1 1"/>
<path d="M41.6 474.8 C42.2 474.35 43.82 472.85 45.2 472.1 C46.58 471.35 48.37 470.2 49.9 470.3 C51.43 470.4 52.57 471.95 54.4 472.7 C56.23 473.45 57.47 474.45 60.9 474.8 C64.33 475.15 72.07 474.85 75 474.8 C77.93 474.75 77.45 474.88 78.5 474.5 C79.55 474.12 80.43 473.5 81.3 472.5 C82.17 471.5 83.02 470.52 83.7 468.5 C84.38 466.48 84.83 462.9 85.4 460.4 C85.97 457.9 86.48 455.33 87.1 453.5 C87.72 451.67 88.42 449.7 89.1 449.4 C89.78 449.1 90.52 450.93 91.2 451.7 C91.88 452.47 92.6 454.08 93.2 454 C93.8 453.92 94.28 453.4 94.8 451.2 C95.32 449 95.8 443.88 96.3 440.8 C96.8 437.72 97.32 434.67 97.8 432.7 C98.28 430.73 98.73 429.28 99.2 429 C99.67 428.72 100.12 429.23 100.6 431 C101.08 432.77 101.57 436.05 102.1 439.6 C102.63 443.15 103.22 449.32 103.8 452.3 C104.38 455.28 104.92 456.05 105.6 457.5 C106.28 458.95 107.13 459.98 107.9 461 C108.67 462.02 109.33 463.03 110.2 463.6 C111.07 464.17 112.33 463.88 113.1 464.4 C113.87 464.92 114.03 465.73 114.8 466.7 C115.57 467.67 116.63 469.28 117.7 470.2 C118.77 471.12 120.05 471.82 121.2 472.2 C122.35 472.58 123.45 472.65 124.6 472.5 C125.75 472.35 126.95 471.88 128.1 471.3 C129.25 470.72 130.5 469.52 131.5 469 C132.5 468.48 132.78 468.03 134.1 468.2 C135.42 468.37 137.65 469.25 139.4 470 C141.15 470.75 142 472.03 144.6 472.7 C147.2 473.37 151.95 473.57 155 474 C158.05 474.43 159.73 475.17 162.9 475.3 C166.07 475.43 172.15 474.88 174 474.8" fill="none" stroke="#c8102e" stroke-width="1.5" stroke-linejoin="round" stroke-linecap="round"/>
<line x1="174.25" y1="380.55" x2="174.25" y2="478.9" stroke="#333" stroke-width="1.5"/>
<line x1="41" y1="381.3" x2="175" y2="381.3" stroke="#333" stroke-width="1.5"/>
<line x1="41" y1="478.2" x2="175" y2="478.2" stroke="#2a2a2a" stroke-width="1.4"/>
<line x1="41.75" y1="380.55" x2="41.75" y2="478.9" stroke="#1a1a1a" stroke-width="1.5"/>
<path d="M38.1 477.4h3.2M39.3 474.36h2M39.3 471.32h2M39.3 468.28h2M39.3 465.24h2M38.1 462.2h3.2M39.3 459.16h2M39.3 456.12h2M39.3 453.08h2M39.3 450.04h2M38.1 447h3.2M39.3 443.96h2M39.3 440.92h2M39.3 437.88h2M39.3 434.84h2M38.1 431.8h3.2M39.3 428.76h2M39.3 425.72h2M39.3 422.68h2M39.3 419.64h2M38.1 416.6h3.2M39.3 413.56h2M39.3 410.52h2M39.3 407.48h2M39.3 404.44h2M38.1 401.4h3.2M39.3 398.36h2M39.3 395.32h2M39.3 392.28h2M39.3 389.24h2M38.1 386.2h3.2M39.3 383.16h2" stroke="#1a1a1a" stroke-width="0.9" fill="none"/>
<text x="35.6" y="480.1" font-size="8.6" text-anchor="end" font-weight="normal" fill="#1a1a1a" textLength="4.35" lengthAdjust="spacingAndGlyphs">0</text>
<text x="35.6" y="464.9" font-size="8.6" text-anchor="end" font-weight="normal" fill="#1a1a1a" textLength="10.88" lengthAdjust="spacingAndGlyphs">0.5</text>
<text x="35.6" y="449.7" font-size="8.6" text-anchor="end" font-weight="normal" fill="#1a1a1a" textLength="10.88" lengthAdjust="spacingAndGlyphs">1.0</text>
<text x="35.6" y="434.5" font-size="8.6" text-anchor="end" font-weight="normal" fill="#1a1a1a" textLength="10.88" lengthAdjust="spacingAndGlyphs">1.5</text>
<text x="35.6" y="419.3" font-size="8.6" text-anchor="end" font-weight="normal" fill="#1a1a1a" textLength="10.88" lengthAdjust="spacingAndGlyphs">2.0</text>
<text x="35.6" y="404.1" font-size="8.6" text-anchor="end" font-weight="normal" fill="#1a1a1a" textLength="10.88" lengthAdjust="spacingAndGlyphs">2.5</text>
<text x="19.4" y="388" font-size="8.6" text-anchor="start" font-weight="normal" fill="#1a1a1a" textLength="12.6" lengthAdjust="spacingAndGlyphs">×10</text>
<text x="33" y="384.85" font-size="5.4" text-anchor="start" font-weight="normal" fill="#1a1a1a">4</text>
<text x="168" y="393" font-size="7.9" text-anchor="end" font-weight="normal" fill="#1a1a1a" textLength="12.5" lengthAdjust="spacingAndGlyphs">IgG</text>
<path d="M211.5 476.4 C212 476.08 213.38 475.12 214.5 474.5 C215.62 473.88 216.95 472.75 218.2 472.7 C219.45 472.65 220.65 473.63 222 474.2 C223.35 474.77 225.05 475.65 226.3 476.1 C227.55 476.55 227.55 476.75 229.5 476.9 C231.45 477.05 235.12 477 238 477 C240.88 477 244.8 477.08 246.8 476.9 C248.8 476.72 249.12 476.47 250 475.9 C250.88 475.33 251.48 474.53 252.1 473.5 C252.72 472.47 253.15 471.5 253.7 469.7 C254.25 467.9 254.83 465.22 255.4 462.7 C255.97 460.18 256.57 457 257.1 454.6 C257.63 452.2 258.22 449.48 258.6 448.3 C258.98 447.12 259.07 446.93 259.4 447.5 C259.73 448.07 260.12 450.03 260.6 451.7 C261.08 453.37 261.78 456.63 262.3 457.5 C262.82 458.37 263.22 457.95 263.7 456.9 C264.18 455.85 264.7 453.5 265.2 451.2 C265.7 448.9 266.22 445.13 266.7 443.1 C267.18 441.07 267.63 439.58 268.1 439 C268.57 438.42 269.02 438.53 269.5 439.6 C269.98 440.67 270.47 442.7 271 445.4 C271.53 448.1 272.07 452.92 272.7 455.8 C273.33 458.68 274.03 460.97 274.8 462.7 C275.57 464.43 276.4 465.47 277.3 466.2 C278.2 466.93 279.33 466.72 280.2 467.1 C281.07 467.48 281.73 467.8 282.5 468.5 C283.27 469.2 283.83 470.38 284.8 471.3 C285.77 472.22 287.05 473.32 288.3 474 C289.55 474.68 291.3 475.13 292.3 475.4 C293.3 475.67 293.6 475.73 294.3 475.6 C295 475.47 295.78 475.05 296.5 474.6 C297.22 474.15 297.88 473.45 298.6 472.9 C299.32 472.35 300.08 471.65 300.8 471.3 C301.52 470.95 302.2 470.75 302.9 470.8 C303.6 470.85 304.28 471.25 305 471.6 C305.72 471.95 306.28 472.47 307.2 472.9 C308.12 473.33 309.07 473.8 310.5 474.2 C311.93 474.6 314.02 475.07 315.8 475.3 C317.58 475.53 319.93 475.38 321.2 475.6 C322.47 475.82 322.6 476.38 323.4 476.6 C324.2 476.82 322.6 476.85 326 476.9 C329.4 476.95 340.83 476.9 343.8 476.9" fill="none" stroke="#c8102e" stroke-width="1.5" stroke-linejoin="round" stroke-linecap="round"/>
<line x1="343.75" y1="380.55" x2="343.75" y2="478.9" stroke="#3d3d3d" stroke-width="1.5"/>
<line x1="210.6" y1="381.3" x2="344.5" y2="381.3" stroke="#333" stroke-width="1.5"/>
<line x1="210.6" y1="478.2" x2="344.5" y2="478.2" stroke="#2a2a2a" stroke-width="1.4"/>
<line x1="211.3" y1="380.55" x2="211.3" y2="478.9" stroke="#1a1a1a" stroke-width="1.4"/>
<path d="M207.7 477.4h3.2M208.9 474.36h2M208.9 471.32h2M208.9 468.28h2M208.9 465.24h2M207.7 462.2h3.2M208.9 459.16h2M208.9 456.12h2M208.9 453.08h2M208.9 450.04h2M207.7 447h3.2M208.9 443.96h2M208.9 440.92h2M208.9 437.88h2M208.9 434.84h2M207.7 431.8h3.2M208.9 428.76h2M208.9 425.72h2M208.9 422.68h2M208.9 419.64h2M207.7 416.6h3.2M208.9 413.56h2M208.9 410.52h2M208.9 407.48h2M208.9 404.44h2M207.7 401.4h3.2M208.9 398.36h2M208.9 395.32h2M208.9 392.28h2M208.9 389.24h2M207.7 386.2h3.2M208.9 383.16h2" stroke="#1a1a1a" stroke-width="0.9" fill="none"/>
<text x="205.2" y="480.1" font-size="8.6" text-anchor="end" font-weight="normal" fill="#1a1a1a" textLength="4.35" lengthAdjust="spacingAndGlyphs">0</text>
<text x="205.2" y="464.9" font-size="8.6" text-anchor="end" font-weight="normal" fill="#1a1a1a" textLength="10.88" lengthAdjust="spacingAndGlyphs">0.5</text>
<text x="205.2" y="449.7" font-size="8.6" text-anchor="end" font-weight="normal" fill="#1a1a1a" textLength="10.88" lengthAdjust="spacingAndGlyphs">1.0</text>
<text x="205.2" y="434.5" font-size="8.6" text-anchor="end" font-weight="normal" fill="#1a1a1a" textLength="10.88" lengthAdjust="spacingAndGlyphs">1.5</text>
<text x="205.2" y="419.3" font-size="8.6" text-anchor="end" font-weight="normal" fill="#1a1a1a" textLength="10.88" lengthAdjust="spacingAndGlyphs">2.0</text>
<text x="205.2" y="404.1" font-size="8.6" text-anchor="end" font-weight="normal" fill="#1a1a1a" textLength="10.88" lengthAdjust="spacingAndGlyphs">2.5</text>
<text x="189" y="388" font-size="8.6" text-anchor="start" font-weight="normal" fill="#1a1a1a" textLength="12.6" lengthAdjust="spacingAndGlyphs">×10</text>
<text x="202.6" y="384.85" font-size="5.4" text-anchor="start" font-weight="normal" fill="#1a1a1a">4</text>
<text x="337.8" y="393" font-size="7.9" text-anchor="end" font-weight="normal" fill="#1a1a1a" textLength="12.5" lengthAdjust="spacingAndGlyphs">IgG</text>
<text x="260" y="433.3" font-size="8.6" text-anchor="middle" font-weight="normal" fill="#1a1a1a" textLength="21.76" lengthAdjust="spacingAndGlyphs">11432</text>
<line x1="259.75" y1="436" x2="259.75" y2="442.7" stroke="#3a3a3a" stroke-width="0.9" stroke-dasharray="1 1"/>
<path d="M379.7 475.3 C380.28 474.98 381.95 473.93 383.2 473.4 C384.45 472.87 385.67 471.97 387.2 472.1 C388.73 472.23 389.57 473.53 392.4 474.2 C395.23 474.87 401.27 475.82 404.2 476.1 C407.13 476.38 408.15 476 410 475.9 C411.85 475.8 413.77 475.83 415.3 475.5 C416.83 475.17 418.1 474.72 419.2 473.9 C420.3 473.08 421.12 472.58 421.9 470.6 C422.68 468.62 423.42 464.97 423.9 462 C424.38 459.03 424.52 455.77 424.8 452.8 C425.08 449.83 425.33 445.52 425.6 444.2 C425.87 442.88 426.18 443.58 426.4 444.9 C426.62 446.22 426.7 451.67 426.9 452.1 C427.1 452.53 427.33 449.47 427.6 447.5 C427.87 445.53 428.2 440.63 428.5 440.3 C428.8 439.97 429.07 443.42 429.4 445.5 C429.73 447.58 430.1 451.25 430.5 452.8 C430.9 454.35 431.37 454.92 431.8 454.8 C432.23 454.68 432.73 454.63 433.1 452.1 C433.47 449.57 433.73 444.98 434 439.6 C434.27 434.22 434.48 425.42 434.7 419.8 C434.92 414.18 435.08 406.33 435.3 405.9 C435.52 405.47 435.7 413.78 436 417.2 C436.3 420.62 436.7 423.33 437.1 426.4 C437.5 429.47 437.85 431.42 438.4 435.6 C438.95 439.78 439.75 447.2 440.4 451.5 C441.05 455.8 441.53 459.1 442.3 461.4 C443.07 463.7 444 464.58 445 465.3 C446 466.02 447.32 465.37 448.3 465.7 C449.28 466.03 449.8 466.48 450.9 467.3 C452 468.12 453.58 469.72 454.9 470.6 C456.22 471.48 457.37 472.05 458.8 472.6 C460.23 473.15 462.07 474.12 463.5 473.9 C464.93 473.68 466.32 471.95 467.4 471.3 C468.48 470.65 468.77 470.08 470 470 C471.23 469.92 472.7 470.23 474.8 470.8 C476.9 471.37 479.55 472.65 482.6 473.4 C485.65 474.15 488.17 474.98 493.1 475.3 C498.03 475.62 509.02 475.3 512.2 475.3" fill="none" stroke="#c8102e" stroke-width="1.5" stroke-linejoin="round" stroke-linecap="round"/>
<line x1="512.35" y1="380.55" x2="512.35" y2="478.9" stroke="#2a2a2a" stroke-width="1.5"/>
<line x1="379" y1="381.3" x2="513.1" y2="381.3" stroke="#333" stroke-width="1.5"/>
<line x1="379" y1="478.2" x2="513.1" y2="478.2" stroke="#2a2a2a" stroke-width="1.4"/>
<line x1="379.75" y1="380.55" x2="379.75" y2="478.9" stroke="#1a1a1a" stroke-width="1.5"/>
<path d="M376.1 477.4h3.2M377.3 474.36h2M377.3 471.32h2M377.3 468.28h2M377.3 465.24h2M376.1 462.2h3.2M377.3 459.16h2M377.3 456.12h2M377.3 453.08h2M377.3 450.04h2M376.1 447h3.2M377.3 443.96h2M377.3 440.92h2M377.3 437.88h2M377.3 434.84h2M376.1 431.8h3.2M377.3 428.76h2M377.3 425.72h2M377.3 422.68h2M377.3 419.64h2M376.1 416.6h3.2M377.3 413.56h2M377.3 410.52h2M377.3 407.48h2M377.3 404.44h2M376.1 401.4h3.2M377.3 398.36h2M377.3 395.32h2M377.3 392.28h2M377.3 389.24h2M376.1 386.2h3.2M377.3 383.16h2" stroke="#1a1a1a" stroke-width="0.9" fill="none"/>
<text x="373.6" y="480.1" font-size="8.6" text-anchor="end" font-weight="normal" fill="#1a1a1a" textLength="4.35" lengthAdjust="spacingAndGlyphs">0</text>
<text x="373.6" y="464.9" font-size="8.6" text-anchor="end" font-weight="normal" fill="#1a1a1a" textLength="4.35" lengthAdjust="spacingAndGlyphs">1</text>
<text x="373.6" y="449.7" font-size="8.6" text-anchor="end" font-weight="normal" fill="#1a1a1a" textLength="4.35" lengthAdjust="spacingAndGlyphs">2</text>
<text x="373.6" y="434.5" font-size="8.6" text-anchor="end" font-weight="normal" fill="#1a1a1a" textLength="4.35" lengthAdjust="spacingAndGlyphs">3</text>
<text x="373.6" y="419.3" font-size="8.6" text-anchor="end" font-weight="normal" fill="#1a1a1a" textLength="4.35" lengthAdjust="spacingAndGlyphs">4</text>
<text x="373.6" y="404.1" font-size="8.6" text-anchor="end" font-weight="normal" fill="#1a1a1a" textLength="4.35" lengthAdjust="spacingAndGlyphs">5</text>
<text x="357.4" y="388" font-size="8.6" text-anchor="start" font-weight="normal" fill="#1a1a1a" textLength="12.6" lengthAdjust="spacingAndGlyphs">×10</text>
<text x="371" y="384.85" font-size="5.4" text-anchor="start" font-weight="normal" fill="#1a1a1a">4</text>
<text x="506.2" y="393" font-size="7.9" text-anchor="end" font-weight="normal" fill="#1a1a1a" textLength="12.5" lengthAdjust="spacingAndGlyphs">IgG</text>
<path d="M41.6 572.8 C42.2 572.47 43.82 571.45 45.2 570.8 C46.58 570.15 48.37 568.82 49.9 568.9 C51.43 568.98 52.57 570.68 54.4 571.3 C56.23 571.92 58.3 572.35 60.9 572.6 C63.5 572.85 67.52 572.82 70 572.8 C72.48 572.78 74.23 572.98 75.8 572.5 C77.37 572.02 78.43 571.07 79.4 569.9 C80.37 568.73 80.93 568.17 81.6 565.5 C82.27 562.83 82.87 558.73 83.4 553.9 C83.93 549.07 84.32 542.78 84.8 536.5 C85.28 530.22 85.82 522.5 86.3 516.2 C86.78 509.9 87.22 502.1 87.7 498.7 C88.18 495.3 88.72 495.8 89.2 495.8 C89.68 495.8 90.17 496.03 90.6 498.7 C91.03 501.37 91.37 506.47 91.8 511.8 C92.23 517.13 92.67 524.88 93.2 530.7 C93.73 536.52 94.32 542.1 95 546.7 C95.68 551.3 96.38 555.28 97.3 558.3 C98.22 561.32 99.23 563.23 100.5 564.8 C101.77 566.37 103.45 566.97 104.9 567.7 C106.35 568.43 107.75 568.63 109.2 569.2 C110.65 569.77 111.9 570.55 113.6 571.1 C115.3 571.65 117.58 572.32 119.4 572.5 C121.22 572.68 123.05 572.52 124.5 572.2 C125.95 571.88 127.18 571.03 128.1 570.6 C129.02 570.17 129 570.13 130 569.6 C131 569.07 132.53 567.3 134.1 567.4 C135.67 567.5 136.78 569.42 139.4 570.2 C142.02 570.98 144.03 571.67 149.8 572.1 C155.57 572.53 169.97 572.68 174 572.8" fill="none" stroke="#c8102e" stroke-width="1.5" stroke-linejoin="round" stroke-linecap="round"/>
<line x1="174.25" y1="477.7" x2="174.25" y2="576.15" stroke="#333" stroke-width="1.5"/>
<line x1="41" y1="575.4" x2="175" y2="575.4" stroke="#1a1a1a" stroke-width="1.5"/>
<line x1="41.75" y1="477.7" x2="41.75" y2="576.15" stroke="#1a1a1a" stroke-width="1.5"/>
<path d="M38.1 575.95h3.2M39.3 572.96h2M39.3 569.97h2M39.3 566.99h2M39.3 564h2M38.1 561.01h3.2M39.3 558.02h2M39.3 555.03h2M39.3 552.05h2M39.3 549.06h2M38.1 546.07h3.2M39.3 543.08h2M39.3 540.09h2M39.3 537.11h2M39.3 534.12h2M38.1 531.13h3.2M39.3 528.14h2M39.3 525.15h2M39.3 522.17h2M39.3 519.18h2M38.1 516.19h3.2M39.3 513.2h2M39.3 510.21h2M39.3 507.23h2M39.3 504.24h2M38.1 501.25h3.2M39.3 498.26h2M39.3 495.27h2M39.3 492.29h2M39.3 489.3h2M38.1 486.31h3.2M39.3 483.32h2M39.3 480.33h2" stroke="#1a1a1a" stroke-width="0.9" fill="none"/>
<text x="35.6" y="578.65" font-size="8.6" text-anchor="end" font-weight="normal" fill="#1a1a1a" textLength="4.35" lengthAdjust="spacingAndGlyphs">0</text>
<text x="35.6" y="563.71" font-size="8.6" text-anchor="end" font-weight="normal" fill="#1a1a1a" textLength="10.88" lengthAdjust="spacingAndGlyphs">0.5</text>
<text x="35.6" y="548.77" font-size="8.6" text-anchor="end" font-weight="normal" fill="#1a1a1a" textLength="10.88" lengthAdjust="spacingAndGlyphs">1.0</text>
<text x="35.6" y="533.83" font-size="8.6" text-anchor="end" font-weight="normal" fill="#1a1a1a" textLength="10.88" lengthAdjust="spacingAndGlyphs">1.5</text>
<text x="35.6" y="518.89" font-size="8.6" text-anchor="end" font-weight="normal" fill="#1a1a1a" textLength="10.88" lengthAdjust="spacingAndGlyphs">2.0</text>
<text x="35.6" y="503.95" font-size="8.6" text-anchor="end" font-weight="normal" fill="#1a1a1a" textLength="10.88" lengthAdjust="spacingAndGlyphs">2.5</text>
<text x="19.4" y="489.8" font-size="8.6" text-anchor="start" font-weight="normal" fill="#1a1a1a" textLength="12.6" lengthAdjust="spacingAndGlyphs">×10</text>
<text x="33" y="486.65" font-size="5.4" text-anchor="start" font-weight="normal" fill="#1a1a1a">4</text>
<path d="M41.6 575.3v3.6M44.91 575.3v2.7M48.22 575.3v2.7M51.53 575.3v2.7M54.84 575.3v2.7M58.15 575.3v3.4M61.46 575.3v2.7M64.77 575.3v2.7M68.08 575.3v2.7M71.39 575.3v2.7M74.7 575.3v3.6M78.01 575.3v2.7M81.32 575.3v2.7M84.63 575.3v2.7M87.94 575.3v2.7M91.25 575.3v3.4M94.56 575.3v2.7M97.87 575.3v2.7M101.18 575.3v2.7M104.49 575.3v2.7M107.8 575.3v3.6M111.11 575.3v2.7M114.42 575.3v2.7M117.73 575.3v2.7M121.04 575.3v2.7M124.35 575.3v3.4M127.66 575.3v2.7M130.97 575.3v2.7M134.28 575.3v2.7M137.59 575.3v2.7M140.9 575.3v3.6M144.21 575.3v2.7M147.52 575.3v2.7M150.83 575.3v2.7M154.14 575.3v2.7M157.45 575.3v3.4M160.76 575.3v2.7M164.07 575.3v2.7M167.38 575.3v2.7M170.69 575.3v2.7" stroke="#1a1a1a" stroke-width="1.0" fill="none"/>
<text x="41.8" y="587.4" font-size="8.6" text-anchor="middle" font-weight="normal" fill="#1a1a1a" textLength="20.67" lengthAdjust="spacingAndGlyphs">10000</text>
<text x="74.9" y="587.4" font-size="8.6" text-anchor="middle" font-weight="normal" fill="#1a1a1a" textLength="20.67" lengthAdjust="spacingAndGlyphs">11000</text>
<text x="108" y="587.4" font-size="8.6" text-anchor="middle" font-weight="normal" fill="#1a1a1a" textLength="20.67" lengthAdjust="spacingAndGlyphs">12000</text>
<text x="141.1" y="587.4" font-size="8.6" text-anchor="middle" font-weight="normal" fill="#1a1a1a" textLength="20.67" lengthAdjust="spacingAndGlyphs">13000</text>
<text x="108.1" y="599.1" font-size="9.2" text-anchor="middle" font-weight="normal" fill="#1a1a1a" textLength="12.1" lengthAdjust="spacingAndGlyphs">m/z</text>
<text x="168" y="491.2" font-size="7.9" text-anchor="end" font-weight="normal" fill="#1a1a1a" textLength="44.7" lengthAdjust="spacingAndGlyphs">Total lambda</text>
<path d="M211.5 575 C212.12 574.67 214.02 573.58 215.2 573 C216.38 572.42 217.47 571.47 218.6 571.5 C219.73 571.53 220.77 572.7 222 573.2 C223.23 573.7 224.33 574.22 226 574.5 C227.67 574.78 229.67 574.82 232 574.9 C234.33 574.98 237.85 575.1 240 575 C242.15 574.9 243.57 574.72 244.9 574.3 C246.23 573.88 247.05 573.23 248 572.5 C248.95 571.77 249.83 571.22 250.6 569.9 C251.37 568.58 252.05 567.02 252.6 564.6 C253.15 562.18 253.45 559.58 253.9 555.4 C254.35 551.22 254.85 545 255.3 539.5 C255.75 534 256.17 527.67 256.6 522.4 C257.03 517.13 257.53 511.42 257.9 507.9 C258.27 504.38 258.52 502.67 258.8 501.3 C259.08 499.93 259.32 499.6 259.6 499.7 C259.88 499.8 260.17 499.88 260.5 501.9 C260.83 503.92 261.22 507.28 261.6 511.8 C261.98 516.32 262.38 523.28 262.8 529 C263.22 534.72 263.6 541.05 264.1 546.1 C264.6 551.15 265.18 556 265.8 559.3 C266.42 562.6 267.03 564.35 267.8 565.9 C268.57 567.45 269.37 567.88 270.4 568.6 C271.43 569.32 272.6 569.73 274 570.2 C275.4 570.67 277.32 570.85 278.8 571.4 C280.28 571.95 281.28 572.97 282.9 573.5 C284.52 574.03 286.65 574.48 288.5 574.6 C290.35 574.72 292.5 574.5 294 574.2 C295.5 573.9 296.42 573.33 297.5 572.8 C298.58 572.27 299.5 571.42 300.5 571 C301.5 570.58 302.5 570.27 303.5 570.3 C304.5 570.33 305.42 570.68 306.5 571.2 C307.58 571.72 308.58 572.85 310 573.4 C311.42 573.95 313.37 574.28 315 574.5 C316.63 574.72 315 574.67 319.8 574.7 C324.6 574.73 339.8 574.7 343.8 574.7" fill="none" stroke="#c8102e" stroke-width="1.5" stroke-linejoin="round" stroke-linecap="round"/>
<line x1="343.75" y1="477.7" x2="343.75" y2="576.15" stroke="#3d3d3d" stroke-width="1.5"/>
<line x1="210.6" y1="575.4" x2="344.5" y2="575.4" stroke="#1a1a1a" stroke-width="1.5"/>
<line x1="211.3" y1="477.7" x2="211.3" y2="576.15" stroke="#1a1a1a" stroke-width="1.4"/>
<path d="M207.7 575.95h3.2M208.9 572.97h2M208.9 569.98h2M208.9 567h2M208.9 564.01h2M207.7 561.03h3.2M208.9 558.05h2M208.9 555.06h2M208.9 552.08h2M208.9 549.09h2M207.7 546.11h3.2M208.9 543.13h2M208.9 540.14h2M208.9 537.16h2M208.9 534.17h2M207.7 531.19h3.2M208.9 528.21h2M208.9 525.22h2M208.9 522.24h2M208.9 519.25h2M207.7 516.27h3.2M208.9 513.29h2M208.9 510.3h2M208.9 507.32h2M208.9 504.33h2M207.7 501.35h3.2M208.9 498.37h2M208.9 495.38h2M208.9 492.4h2M208.9 489.41h2M207.7 486.43h3.2M208.9 483.45h2M208.9 480.46h2" stroke="#1a1a1a" stroke-width="0.9" fill="none"/>
<text x="205.2" y="578.65" font-size="8.6" text-anchor="end" font-weight="normal" fill="#1a1a1a" textLength="4.35" lengthAdjust="spacingAndGlyphs">0</text>
<text x="205.2" y="563.73" font-size="8.6" text-anchor="end" font-weight="normal" fill="#1a1a1a" textLength="10.88" lengthAdjust="spacingAndGlyphs">0.5</text>
<text x="205.2" y="548.81" font-size="8.6" text-anchor="end" font-weight="normal" fill="#1a1a1a" textLength="10.88" lengthAdjust="spacingAndGlyphs">1.0</text>
<text x="205.2" y="533.89" font-size="8.6" text-anchor="end" font-weight="normal" fill="#1a1a1a" textLength="10.88" lengthAdjust="spacingAndGlyphs">1.5</text>
<text x="205.2" y="518.97" font-size="8.6" text-anchor="end" font-weight="normal" fill="#1a1a1a" textLength="10.88" lengthAdjust="spacingAndGlyphs">2.0</text>
<text x="205.2" y="504.05" font-size="8.6" text-anchor="end" font-weight="normal" fill="#1a1a1a" textLength="10.88" lengthAdjust="spacingAndGlyphs">2.5</text>
<text x="189" y="489.8" font-size="8.6" text-anchor="start" font-weight="normal" fill="#1a1a1a" textLength="12.6" lengthAdjust="spacingAndGlyphs">×10</text>
<text x="202.6" y="486.65" font-size="5.4" text-anchor="start" font-weight="normal" fill="#1a1a1a">4</text>
<path d="M211.2 575.3v3.6M214.52 575.3v2.7M217.83 575.3v2.7M221.15 575.3v2.7M224.46 575.3v2.7M227.78 575.3v3.4M231.09 575.3v2.7M234.41 575.3v2.7M237.72 575.3v2.7M241.04 575.3v2.7M244.35 575.3v3.6M247.67 575.3v2.7M250.98 575.3v2.7M254.3 575.3v2.7M257.61 575.3v2.7M260.93 575.3v3.4M264.24 575.3v2.7M267.56 575.3v2.7M270.87 575.3v2.7M274.19 575.3v2.7M277.5 575.3v3.6M280.81 575.3v2.7M284.13 575.3v2.7M287.45 575.3v2.7M290.76 575.3v2.7M294.08 575.3v3.4M297.39 575.3v2.7M300.71 575.3v2.7M304.02 575.3v2.7M307.34 575.3v2.7M310.65 575.3v3.6M313.97 575.3v2.7M317.28 575.3v2.7M320.6 575.3v2.7M323.91 575.3v2.7M327.23 575.3v3.4M330.54 575.3v2.7M333.86 575.3v2.7M337.17 575.3v2.7M340.49 575.3v2.7" stroke="#1a1a1a" stroke-width="1.0" fill="none"/>
<text x="211.4" y="587.4" font-size="8.6" text-anchor="middle" font-weight="normal" fill="#1a1a1a" textLength="20.67" lengthAdjust="spacingAndGlyphs">10000</text>
<text x="244.55" y="587.4" font-size="8.6" text-anchor="middle" font-weight="normal" fill="#1a1a1a" textLength="20.67" lengthAdjust="spacingAndGlyphs">11000</text>
<text x="277.7" y="587.4" font-size="8.6" text-anchor="middle" font-weight="normal" fill="#1a1a1a" textLength="20.67" lengthAdjust="spacingAndGlyphs">12000</text>
<text x="310.85" y="587.4" font-size="8.6" text-anchor="middle" font-weight="normal" fill="#1a1a1a" textLength="20.67" lengthAdjust="spacingAndGlyphs">13000</text>
<text x="277.8" y="599.1" font-size="9.2" text-anchor="middle" font-weight="normal" fill="#1a1a1a" textLength="12.1" lengthAdjust="spacingAndGlyphs">m/z</text>
<text x="337.8" y="491.2" font-size="7.9" text-anchor="end" font-weight="normal" fill="#1a1a1a" textLength="44.7" lengthAdjust="spacingAndGlyphs">Total lambda</text>
<text x="260" y="488.7" font-size="8.6" text-anchor="middle" font-weight="normal" fill="#1a1a1a" textLength="21.76" lengthAdjust="spacingAndGlyphs">11432</text>
<line x1="259.6" y1="491" x2="259.6" y2="497" stroke="#3a3a3a" stroke-width="0.9" stroke-dasharray="1 1"/>
<path d="M379.7 573.4 C380.28 573.3 381.83 573.12 383.2 572.8 C384.57 572.48 386.15 571.4 387.9 571.5 C389.65 571.6 390.85 573.05 393.7 573.4 C396.55 573.75 401.83 573.6 405 573.6 C408.17 573.6 410.77 573.6 412.7 573.4 C414.63 573.2 415.42 572.93 416.6 572.4 C417.78 571.87 418.95 571.32 419.8 570.2 C420.65 569.08 421.12 567.97 421.7 565.7 C422.28 563.43 422.82 560.03 423.3 556.6 C423.78 553.17 424.27 549.17 424.6 545.1 C424.93 541.03 425.08 536.72 425.3 532.2 C425.52 527.68 425.72 519.08 425.9 518 C426.08 516.92 426.2 523.45 426.4 525.7 C426.6 527.95 426.85 532.13 427.1 531.5 C427.35 530.87 427.63 525.75 427.9 521.9 C428.17 518.05 428.43 509.05 428.7 508.4 C428.97 507.75 429.2 513.82 429.5 518 C429.8 522.18 430.08 528.78 430.5 533.5 C430.92 538.22 431.42 542.45 432 546.3 C432.58 550.15 433.25 553.58 434 556.6 C434.75 559.62 435.53 562.47 436.5 564.4 C437.47 566.33 438.62 567.3 439.8 568.2 C440.98 569.1 442.43 569.58 443.6 569.8 C444.77 570.02 445.72 569.28 446.8 569.5 C447.88 569.72 448.7 570.57 450.1 571.1 C451.5 571.63 453.48 572.32 455.2 572.7 C456.92 573.08 458.45 573.47 460.4 573.4 C462.35 573.33 464.28 572.73 466.9 572.3 C469.52 571.87 473.48 570.83 476.1 570.8 C478.72 570.77 479.77 571.77 482.6 572.1 C485.43 572.43 490.7 572.8 493.1 572.8 C495.5 572.8 495.7 572.1 497 572.1 C498.3 572.1 498.37 572.68 500.9 572.8 C503.43 572.92 510.32 572.8 512.2 572.8" fill="none" stroke="#c8102e" stroke-width="1.5" stroke-linejoin="round" stroke-linecap="round"/>
<line x1="512.35" y1="477.7" x2="512.35" y2="576.15" stroke="#2a2a2a" stroke-width="1.5"/>
<line x1="379" y1="575.4" x2="513.1" y2="575.4" stroke="#1a1a1a" stroke-width="1.5"/>
<line x1="379.75" y1="477.7" x2="379.75" y2="576.15" stroke="#1a1a1a" stroke-width="1.5"/>
<path d="M376.1 575.95h3.2M377.3 572.97h2M377.3 569.98h2M377.3 567h2M377.3 564.01h2M376.1 561.03h3.2M377.3 558.05h2M377.3 555.06h2M377.3 552.08h2M377.3 549.09h2M376.1 546.11h3.2M377.3 543.13h2M377.3 540.14h2M377.3 537.16h2M377.3 534.17h2M376.1 531.19h3.2M377.3 528.21h2M377.3 525.22h2M377.3 522.24h2M377.3 519.25h2M376.1 516.27h3.2M377.3 513.29h2M377.3 510.3h2M377.3 507.32h2M377.3 504.33h2M376.1 501.35h3.2M377.3 498.37h2M377.3 495.38h2M377.3 492.4h2M377.3 489.41h2M376.1 486.43h3.2M377.3 483.45h2M377.3 480.46h2" stroke="#1a1a1a" stroke-width="0.9" fill="none"/>
<text x="373.6" y="578.65" font-size="8.6" text-anchor="end" font-weight="normal" fill="#1a1a1a" textLength="4.35" lengthAdjust="spacingAndGlyphs">0</text>
<text x="373.6" y="563.73" font-size="8.6" text-anchor="end" font-weight="normal" fill="#1a1a1a" textLength="4.35" lengthAdjust="spacingAndGlyphs">1</text>
<text x="373.6" y="548.81" font-size="8.6" text-anchor="end" font-weight="normal" fill="#1a1a1a" textLength="4.35" lengthAdjust="spacingAndGlyphs">2</text>
<text x="373.6" y="533.89" font-size="8.6" text-anchor="end" font-weight="normal" fill="#1a1a1a" textLength="4.35" lengthAdjust="spacingAndGlyphs">3</text>
<text x="373.6" y="518.97" font-size="8.6" text-anchor="end" font-weight="normal" fill="#1a1a1a" textLength="4.35" lengthAdjust="spacingAndGlyphs">4</text>
<text x="373.6" y="504.05" font-size="8.6" text-anchor="end" font-weight="normal" fill="#1a1a1a" textLength="4.35" lengthAdjust="spacingAndGlyphs">5</text>
<text x="357.4" y="489.8" font-size="8.6" text-anchor="start" font-weight="normal" fill="#1a1a1a" textLength="12.6" lengthAdjust="spacingAndGlyphs">×10</text>
<text x="371" y="486.65" font-size="5.4" text-anchor="start" font-weight="normal" fill="#1a1a1a">4</text>
<path d="M379.6 575.3v3.6M382.92 575.3v2.7M386.23 575.3v2.7M389.55 575.3v2.7M392.86 575.3v2.7M396.18 575.3v3.4M399.49 575.3v2.7M402.81 575.3v2.7M406.12 575.3v2.7M409.44 575.3v2.7M412.75 575.3v3.6M416.07 575.3v2.7M419.38 575.3v2.7M422.7 575.3v2.7M426.01 575.3v2.7M429.33 575.3v3.4M432.64 575.3v2.7M435.96 575.3v2.7M439.27 575.3v2.7M442.59 575.3v2.7M445.9 575.3v3.6M449.22 575.3v2.7M452.53 575.3v2.7M455.85 575.3v2.7M459.16 575.3v2.7M462.48 575.3v3.4M465.79 575.3v2.7M469.11 575.3v2.7M472.42 575.3v2.7M475.74 575.3v2.7M479.05 575.3v3.6M482.37 575.3v2.7M485.68 575.3v2.7M489 575.3v2.7M492.31 575.3v2.7M495.63 575.3v3.4M498.94 575.3v2.7M502.26 575.3v2.7M505.57 575.3v2.7M508.89 575.3v2.7" stroke="#1a1a1a" stroke-width="1.0" fill="none"/>
<text x="379.8" y="587.4" font-size="8.6" text-anchor="middle" font-weight="normal" fill="#1a1a1a" textLength="20.67" lengthAdjust="spacingAndGlyphs">10000</text>
<text x="412.95" y="587.4" font-size="8.6" text-anchor="middle" font-weight="normal" fill="#1a1a1a" textLength="20.67" lengthAdjust="spacingAndGlyphs">11000</text>
<text x="446.1" y="587.4" font-size="8.6" text-anchor="middle" font-weight="normal" fill="#1a1a1a" textLength="20.67" lengthAdjust="spacingAndGlyphs">12000</text>
<text x="479.25" y="587.4" font-size="8.6" text-anchor="middle" font-weight="normal" fill="#1a1a1a" textLength="20.67" lengthAdjust="spacingAndGlyphs">13000</text>
<text x="446.2" y="599.1" font-size="9.2" text-anchor="middle" font-weight="normal" fill="#1a1a1a" textLength="12.1" lengthAdjust="spacingAndGlyphs">m/z</text>
<text x="506.2" y="491.2" font-size="7.9" text-anchor="end" font-weight="normal" fill="#1a1a1a" textLength="44.7" lengthAdjust="spacingAndGlyphs">Total lambda</text>
<text x="107.85" y="14" font-size="9.9" text-anchor="middle" font-weight="bold" fill="#111" textLength="32.7" lengthAdjust="spacingAndGlyphs" stroke="#111" stroke-width="0.25">Control</text>
<text x="277.5" y="14" font-size="9.9" text-anchor="middle" font-weight="bold" fill="#111" textLength="55" lengthAdjust="spacingAndGlyphs" stroke="#111" stroke-width="0.25">Presentation</text>
<text x="445.95" y="14" font-size="9.9" text-anchor="middle" font-weight="bold" fill="#111" textLength="89.3" lengthAdjust="spacingAndGlyphs" stroke="#111" stroke-width="0.25">Day+100 post ASCT</text>
<text x="107.85" y="374" font-size="9.9" text-anchor="middle" font-weight="bold" fill="#111" textLength="32.7" lengthAdjust="spacingAndGlyphs" stroke="#111" stroke-width="0.25">Control</text>
<text x="277.5" y="374" font-size="9.9" text-anchor="middle" font-weight="bold" fill="#111" textLength="55" lengthAdjust="spacingAndGlyphs" stroke="#111" stroke-width="0.25">Presentation</text>
<text x="445.95" y="374" font-size="9.9" text-anchor="middle" font-weight="bold" fill="#111" textLength="89.3" lengthAdjust="spacingAndGlyphs" stroke="#111" stroke-width="0.25">Day+100 post ASCT</text>
<text x="6.4" y="13.8" font-size="10.9" text-anchor="start" font-weight="bold" fill="#000" textLength="8.3" lengthAdjust="spacingAndGlyphs" stroke="#000" stroke-width="0.45">A</text>
<text x="7.1" y="374" font-size="10.9" text-anchor="start" font-weight="bold" fill="#000" textLength="6.4" lengthAdjust="spacingAndGlyphs" stroke="#000" stroke-width="0.45">B</text>
<text transform="translate(14.6 117.4) rotate(-90)" font-size="10.3" text-anchor="middle" fill="#222" textLength="42.5" lengthAdjust="spacingAndGlyphs">Intens. [a.u.]</text>
<text transform="translate(14.6 272.4) rotate(-90)" font-size="10.3" text-anchor="middle" fill="#222" textLength="42.5" lengthAdjust="spacingAndGlyphs">Intens. [a.u.]</text>
<text transform="translate(14.6 478.1) rotate(-90)" font-size="10.3" text-anchor="middle" fill="#222" textLength="42.5" lengthAdjust="spacingAndGlyphs">Intens. [a.u.]</text>
<rect x="0.5" y="0.5" width="519" height="605" fill="none" stroke="#000" stroke-width="1"/>
</svg>
</body></html>
